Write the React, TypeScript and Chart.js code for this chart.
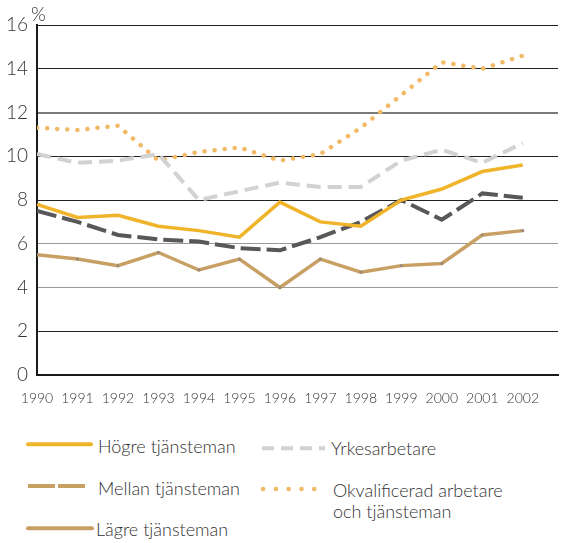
import React, { useEffect, useRef } from "react";
import { Chart, registerables } from "chart.js";

Chart.register(...registerables);

const years = [1990, 1991, 1992, 1993, 1994, 1995, 1996, 1997, 1998, 1999, 2000, 2001, 2002];
const hogre = [7.8, 7.2, 7.3, 6.8, 6.6, 6.3, 7.9, 7.0, 6.8, 8.0, 8.5, 9.3, 9.6];
const mellan = [7.5, 7.0, 6.4, 6.2, 6.1, 5.8, 5.7, 6.3, 7.0, 8.0, 7.1, 8.3, 8.1];
const lagre = [5.5, 5.3, 5.0, 5.6, 4.8, 5.3, 4.0, 5.3, 4.7, 5.0, 5.1, 6.4, 6.6];
const yrkes = [10.1, 9.7, 9.8, 10.1, 8.0, 8.4, 8.8, 8.6, 8.6, 9.8, 10.3, 9.7, 10.6];
const okval = [11.3, 11.2, 11.4, 9.8, 10.2, 10.4, 9.8, 10.1, 11.3, 12.8, 14.3, 14.0, 14.6];
const yTicks = [0, 2, 4, 6, 8, 10, 12, 14, 16];

const C_HOGRE = "#f0b42a";
const C_MELLAN = "#58585a";
const C_MELLAN_LEG = "#c9a064";
const C_LAGRE = "#c9a064";
const C_YRKES = "#d2d2d2";
const C_OKVAL = "#f2b966";

const FONT = "Lato, 'Open Sans', sans-serif";

function pts(vals: number[]) {
  return years.map((x, i) => ({ x, y: vals[i] }));
}

function App() {
  const ref = useRef<HTMLCanvasElement | null>(null);
  useEffect(() => {
    if (!ref.current) return;
    const chart = new Chart(ref.current, {
      type: "line",
      data: {
        datasets: [
          {
            label: "Högre tjänsteman",
            data: pts(hogre),
            borderColor: C_HOGRE,
            borderWidth: 3.5,
            pointRadius: 0,
            tension: 0,
          },
          {
            label: "Mellan tjänsteman",
            data: pts(mellan),
            borderColor: C_MELLAN,
            borderWidth: 4,
            borderDash: [20, 6],
            pointRadius: 0,
            tension: 0,
          },
          {
            label: "Yrkesarbetare",
            data: pts(yrkes),
            borderColor: C_YRKES,
            borderWidth: 4,
            borderDash: [14, 7],
            pointRadius: 0,
            tension: 0,
          },
          {
            label: "Okvalificerad arbetare och tjänsteman",
            data: pts(okval),
            borderColor: C_OKVAL,
            borderWidth: 4.5,
            borderDash: [0.1, 10],
            borderCapStyle: "round",
            pointRadius: 0,
            tension: 0,
          },
          {
            label: "Lägre tjänsteman",
            data: pts(lagre),
            borderColor: C_LAGRE,
            borderWidth: 3.5,
            pointRadius: 1.6,
            pointBorderWidth: 0,
            pointBackgroundColor: "#9a8c78",
            tension: 0,
          },
        ],
      },
      options: {
        responsive: false,
        animation: false,
        devicePixelRatio: 1,
        layout: { padding: { top: 25, left: 0, right: 0, bottom: 0 } },
        plugins: { legend: { display: false }, tooltip: { enabled: false } },
        scales: {
          x: {
            type: "linear",
            min: 1990,
            max: 2002.87,
            afterBuildTicks: (s: any) => {
              s.ticks = years.map((v) => ({ value: v }));
            },
            afterFit: (s: any) => {
              s.height = 35;
            },
            grid: { display: false, drawTicks: false },
            border: { display: true, color: "#1a1a1a", width: 2 },
            ticks: {
              callback: (v: any) => String(v),
              font: { family: FONT, size: 14, weight: "300" },
              color: "#333",
              padding: 15,
              maxRotation: 0,
              autoSkip: false,
            },
          },
          y: {
            min: 0,
            max: 16,
            afterBuildTicks: (s: any) => {
              s.ticks = yTicks.map((v) => ({ value: v }));
            },
            afterFit: (s: any) => {
              s.width = 37;
            },
            grid: {
              drawTicks: false,
              color: (ctx: any) => {
                const v = ctx.tick ? ctx.tick.value : 0;
                if (v === 12) return "#7a7a7a";
                if (v === 6 || v === 4) return "#9a9a9a";
                return "#222";
              },
              lineWidth: (ctx: any) => {
                const v = ctx.tick ? ctx.tick.value : 0;
                return v === 12 ? 2 : 1;
              },
            },
            border: { display: true, color: "#1a1a1a", width: 2 },
            ticks: {
              font: { family: FONT, size: 19, weight: "300" },
              color: "#333",
              padding: 9,
            },
          },
        },
      },
    } as any);
    return () => chart.destroy();
  }, []);

  const text = (content: React.ReactNode, left: number, top: number) => (
    <div
      style={{
        position: "absolute",
        left,
        top,
        fontFamily: FONT,
        fontWeight: 300,
        fontSize: 18,
        lineHeight: "21px",
        color: "#333",
        whiteSpace: "nowrap",
      }}
    >
      {content}
    </div>
  );

  return (
    <div
      style={{
        position: "absolute",
        left: 0,
        top: 0,
        width: 562,
        height: 543,
        background: "#fff",
        overflow: "hidden",
      }}
    >
      <canvas ref={ref} width={562} height={410} style={{ position: "absolute", left: 0, top: 0 }} />
      <div
        style={{
          position: "absolute",
          left: 31,
          top: 3,
          fontFamily: FONT,
          fontWeight: 300,
          fontSize: 19,
          lineHeight: "21px",
          color: "#333",
        }}
      >
        %
      </div>
      <svg width={562} height={133} style={{ position: "absolute", left: 0, top: 410 }}>
        <line x1={28} y1={34.3} x2={91} y2={34.3} stroke={C_HOGRE} strokeWidth={4} strokeLinecap="round" />
        <line x1={28} y1={76} x2={85} y2={76} stroke={C_MELLAN_LEG} strokeWidth={4} strokeDasharray="27 3" strokeLinecap="butt" />
        <line x1={28} y1={118.3} x2={92} y2={118.3} stroke={C_LAGRE} strokeWidth={4} strokeLinecap="round" />
        <line x1={262} y1={38.3} x2={325} y2={38.3} stroke={C_YRKES} strokeWidth={4} strokeDasharray="12 7" />
        <line x1={263} y1={79} x2={316} y2={79} stroke={C_OKVAL} strokeWidth={4.5} strokeDasharray="0.1 12.7" strokeLinecap="round" />
      </svg>
      {text("Högre tjänsteman", 98, 436)}
      {text("Mellan tjänsteman", 98, 477.5)}
      {text("Lägre tjänsteman", 96, 519)}
      {text("Yrkesarbetare", 331, 438)}
      {text(
        <>
          Okvalificerad arbetare
          <br />
          och tjänsteman
        </>,
        333,
        480
      )}
    </div>
  );
}

export default App;
